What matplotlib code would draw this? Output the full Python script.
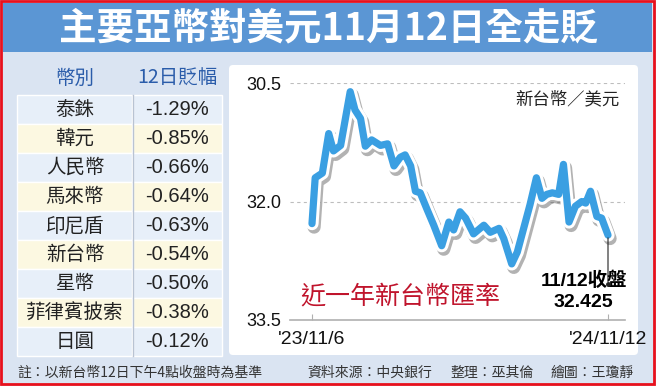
import matplotlib
matplotlib.use("Agg")
import matplotlib.pyplot as plt
import matplotlib.patheffects as pe
from matplotlib.patches import Rectangle, FancyBboxPatch

plt.rcParams['font.family'] = ['Noto Sans CJK TC', 'DejaVu Sans']

# 表格資料
currencies = ["泰銖", "韓元", "人民幣", "馬來幣", "印尼盾", "新台幣", "星幣", "菲律賓披索", "日圓"]
changes = ["-1.29%", "-0.85%", "-0.66%", "-0.64%", "-0.63%", "-0.54%", "-0.50%", "-0.38%", "-0.12%"]

# 近一年新台幣匯率 (距 2023/11/6 的天數, 匯率)
days = [0, 4, 13, 21, 27, 36, 42, 48, 54, 61, 67, 75, 86, 95, 103, 111, 117, 124,
        130, 136, 145, 153, 163, 172, 178, 186, 193, 203, 216, 224, 235, 241, 251,
        258, 266, 274, 282, 289, 295, 302, 310, 316, 323, 331, 339, 344, 350, 358,
        364, 372]
rates = [32.28, 31.70, 31.64, 31.14, 31.36, 31.29, 30.95, 30.61, 30.84, 30.95,
         31.30, 31.22, 31.29, 31.27, 31.55, 31.44, 31.41, 31.55, 31.87, 31.89,
         32.11, 32.30, 32.56, 32.26, 32.36, 32.13, 32.21, 32.41, 32.30, 32.39,
         32.34, 32.47, 32.79, 32.64, 32.34, 32.04, 31.70, 31.96, 31.91, 31.89,
         31.91, 31.53, 32.26, 32.06, 32.00, 32.02, 31.87, 32.19, 32.21, 32.425]
tick_days = [0, 372]
tick_labels = ["'23/11/6", "'24/11/12"]
y_ticks = [30.5, 32.0, 33.5]

W, H = 656, 386
fig = plt.figure(figsize=(W / 100, H / 100), dpi=100)

# 背景層，用像素座標
bg = fig.add_axes([0, 0, 1, 1])
bg.set_xlim(0, W)
bg.set_ylim(H, 0)
bg.axis("off")
bg.add_patch(Rectangle((0, 0), W, H, facecolor="#dae4f2", edgecolor="none"))
bg.add_patch(Rectangle((3, 3), 649, 49, facecolor="#5b96d4", edgecolor="none"))
bg.add_patch(Rectangle((1, 1), W - 3, H - 3, facecolor="none", edgecolor="#e8101c", lw=2))
bg.text(328, 28, "主要亞幣對美元11月12日全走貶", color="white", fontsize=27,
        fontweight="bold", ha="center", va="center")

# 表格
head_color = "#2a5caa"
bg.text(75, 78, "幣別", color=head_color, fontsize=14, ha="center", va="center")
bg.text(177, 78, "12日貶幅", color=head_color, fontsize=14, ha="center", va="center")
row_h = 29.05
for i, (name, val) in enumerate(zip(currencies, changes)):
    y0 = 95 + i * row_h
    fc = "#e7eff9" if i % 2 == 0 else "#fcf8e1"
    bg.add_patch(Rectangle((17, y0), 115, row_h, facecolor=fc, edgecolor="white", lw=1))
    bg.add_patch(Rectangle((133, y0), 89, row_h, facecolor=fc, edgecolor="white", lw=1))
    yc = y0 + row_h / 2
    bg.text(75, yc, name, fontsize=14, color="#222222", ha="center", va="center")
    bg.text(177, yc, val, fontsize=14.5, color="#222222", ha="center", va="center",
            family=["Liberation Sans", "DejaVu Sans"])
bg.plot([132.5, 132.5], [95, 95 + 9 * row_h], color="#b9c3d2", lw=1)

# 圖表白底
bg.add_patch(FancyBboxPatch((229, 65), 409, 290, boxstyle="round,pad=0,rounding_size=4",
                            facecolor="white", edgecolor="none"))

# 註腳
foot = dict(fontsize=10, color="#333333", va="center")
bg.text(17, 373, "註：以新台幣12日下午4點收盤時為基準", ha="left", **foot)
bg.text(307, 373, "資料來源：中央銀行", ha="left", **foot)
bg.text(450, 373, "整理：巫其倫", ha="left", **foot)
bg.text(634, 373, "繪圖：王瓊靜", ha="right", **foot)

# 折線圖
left, right, top, bottom = 290, 625, 83, 320
ax = fig.add_axes([left / W, (H - bottom) / H, (right - left) / W, (bottom - top) / H])
ax.patch.set_alpha(0)
px_per_day = (608 - 312) / 372
ax.set_xlim(-(312 - left) / px_per_day, 372 + (right - 608) / px_per_day)
ax.set_ylim(33.5, 30.5)

for v in y_ticks[:2]:
    ax.axhline(v, color="#bdbdbd", lw=0.8, ls=(0, (3, 3)), zorder=1)

ax.plot(days, rates, color="#3a9fe2", lw=5.2, solid_capstyle="round",
        solid_joinstyle="round", zorder=3,
        path_effects=[pe.SimpleLineShadow(offset=(1.5, -2.5), shadow_color="#555555",
                                          alpha=0.45, linewidth=9.5),
                      pe.Stroke(linewidth=9.5, foreground="white"),
                      pe.Normal()])

for s in ["top", "right", "left"]:
    ax.spines[s].set_visible(False)
ax.spines["bottom"].set_color("#b0b0b0")
ax.spines["bottom"].set_linewidth(1.2)
ax.spines["bottom"].set_zorder(2)

ax.set_yticks(y_ticks)
ax.set_yticklabels(["30.5", "32.0", "33.5"], family=["Liberation Sans", "DejaVu Sans"],
                   fontsize=13, color="#111111")
ax.tick_params(axis="y", length=0, pad=6)
ax.set_xticks(tick_days)
ax.set_xticklabels(tick_labels, family=["Liberation Sans", "DejaVu Sans"],
                   fontsize=14, color="#111111")
ax.tick_params(axis="x", direction="in", length=4, color="#b0b0b0", pad=8)

# 收盤標示
last_d, last_r = days[-1], rates[-1]
ax.annotate("", xy=(last_d, 33.05), xytext=(last_d, last_r),
            arrowprops=dict(arrowstyle="-", color="#222222", lw=0.8))
ax.plot([last_d], [33.05], "o", color="#222222", ms=2.5, zorder=4)
ax.text(last_d - 30, 33.0, "11/12收盤", fontsize=14, fontweight="bold",
        ha="center", va="center", family=["Liberation Sans", "Noto Sans CJK TC"])
ax.text(last_d - 31, 33.28, f"{last_r:.3f}", fontsize=14, fontweight="bold",
        ha="center", va="center", family=["Liberation Sans", "Noto Sans CJK TC"])

ax.text(0.03, 0.1, "近一年新台幣匯率", transform=ax.transAxes, fontsize=18,
        color="#c0142c", ha="left", va="center")
ax.text(0.985, 0.93, "新台幣／美元", transform=ax.transAxes, fontsize=12.5,
        color="#222222", ha="right", va="center")

fig.savefig("out.png", dpi=100)
